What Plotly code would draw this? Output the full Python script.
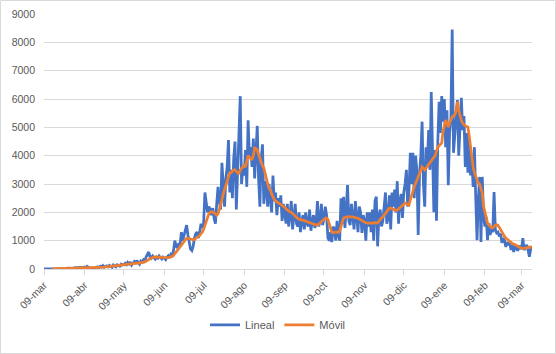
import plotly.graph_objects as go
import pandas as pd

start_date = "2020-03-09"

lineal = [
    # 09-mar .. 08-abr
    0, 0, 0, 0, 1, 2, 3, 5, 8, 10, 6, 12, 15, 10, 20, 18, 25, 14, 30, 22, 35, 28, 20, 40, 45, 30, 50, 38, 60, 42, 55,
    # 09-abr .. 08-may
    70, 40, 90, 55, 30, 20, 10, 15, 40, 60, 80, 50, 100, 70, 120, 60, 90, 110, 75, 130, 95, 60, 140, 110, 80, 150, 120, 100, 170, 140,
    # 09-may .. 08-jun
    160, 200, 120, 230, 180, 250, 140, 210, 260, 190, 300, 220, 170, 280, 240, 320, 260, 420, 500, 600, 430, 380, 460, 400, 350, 420, 380, 460, 400, 350, 420,
    # 09-jun .. 08-jul
    380, 330, 420, 470, 400, 520, 480, 650, 1000, 800, 750, 900, 850, 1300, 1000, 1200, 1400, 1550, 1200, 900, 700, 650, 800, 1100, 1250, 1300, 1100, 1300, 1600, 1450,
    # 09-jul .. 08-ago
    1600, 2700, 2300, 2000, 2200, 2100, 1900, 2150, 1800, 1600, 2300, 2900, 2400, 2100, 3750, 3000, 2200, 3200, 3600, 4550, 2700, 3500, 2500, 3900, 4500, 2100, 3400, 4200, 6100, 3000, 3600,
    # 09-ago .. 08-sep
    3300, 4200, 2900, 5250, 4000, 4300, 3600, 4600, 3200, 4400, 5050, 3200, 2200, 3900, 4400, 2300, 3100, 2800, 2200, 3000, 2600, 2000, 3300, 2400, 2700, 1900, 2500, 2200, 2600, 1700, 2300,
    # 09-sep .. 08-oct
    2000, 1600, 2300, 1500, 1900, 2400, 1400, 1800, 2300, 1600, 1500, 2000, 1300, 1700, 1900, 1400, 2000, 1600, 1500, 2100, 1350, 1700, 1900, 1450, 1600, 2400, 1500, 1700, 2300, 1550,
    # 09-oct .. 08-nov
    1800, 2200, 1900, 1100, 1000, 1300, 950, 1500, 1400, 1000, 1700, 1200, 1000, 2500, 1600, 2550, 1450, 2100, 2960, 1700, 1550, 2300, 1900, 1400, 2400, 1700, 1300, 2200, 2000, 1270, 1900,
    # 09-nov .. 08-dic
    1700, 1000, 2000, 1500, 2000, 1300, 2100, 1000, 2400, 2550, 800, 1900, 2100, 1500, 1700, 2200, 2700, 1600, 1800, 2600, 1400, 2700, 2200, 2800, 2000, 3100, 1600, 2400, 2650, 1800,
    # 09-dic .. 08-ene
    2700, 3000, 3500, 2200, 2800, 4100, 3000, 4100, 2500, 4000, 3500, 1200, 3300, 4000, 5200, 3000, 2200, 4300, 3700, 4900, 3500, 6250, 3500, 2000, 4200, 1700, 4500, 5900, 4800, 6100, 5200,
    # 09-ene .. 08-feb
    6000, 4300, 5600, 2960, 4800, 5300, 8450, 4100, 4700, 5260, 5960, 4000, 5000, 6040, 4900, 5400, 3600, 4800, 3400, 4600, 3300, 3900, 2900, 4300, 2500, 1020, 2500, 3250, 950, 3250, 1840,
    # 09-feb .. 17-mar
    1500, 1840, 1020, 1620, 1200, 1400, 1300, 2720, 1380, 1270, 1300, 1150, 1250, 920, 1090, 1000, 780, 950, 850, 920, 670, 850, 600, 800, 700, 650, 740, 820, 700, 1090, 670, 780, 850, 670, 430, 700, 800,
]

movil = [
    None, None, None, None, None, None,
    3, 4, 5, 6, 8, 10, 11, 12, 14, 15, 17, 18, 20, 22, 24, 25, 27, 28, 30, 32, 33, 35, 37, 40, 42,
    45, 47, 50, 52, 50, 45, 40, 38, 40, 42, 45, 50, 55, 60, 65, 70, 75, 80, 85, 90, 95, 100, 105, 108, 110, 115, 118, 120, 125, 130,
    135, 140, 145, 150, 160, 170, 175, 180, 190, 195, 200, 210, 215, 220, 225, 235, 250, 270, 300, 330, 360, 390, 410, 420, 425, 430, 420, 415, 410, 405, 400,
    410, 400, 395, 400, 410, 420, 445, 480, 550, 610, 660, 720, 780, 850, 900, 950, 1030, 1080, 1090, 1080, 1060, 1040, 1030, 1050, 1080, 1100, 1120, 1180, 1250, 1300,
    1400, 1560, 1700, 1850, 1950, 2000, 2020, 2010, 1990, 1950, 1900, 1950, 2100, 2250, 2450, 2650, 2800, 2900, 3050, 3250, 3400, 3400, 3450, 3500, 3500, 3450, 3400, 3350, 3500, 3550, 3600,
    3650, 3600, 3800, 4000, 3950, 3900, 3850, 4000, 4270, 4250, 4200, 4050, 3900, 3740, 3650, 3570, 3350, 3140, 3000, 2850, 2790, 2650, 2540, 2450, 2400, 2370, 2330, 2300, 2270, 2260, 2200,
    2180, 2120, 2080, 2050, 2020, 2000, 1950, 1900, 1850, 1800, 1780, 1760, 1750, 1740, 1730, 1710, 1690, 1670, 1650, 1630, 1620, 1600, 1590, 1570, 1560, 1550, 1580, 1620, 1680, 1730,
    1760, 1800, 1800, 1750, 1600, 1450, 1300, 1280, 1300, 1310, 1300, 1290, 1350, 1500, 1700, 1800, 1820, 1840, 1850, 1840, 1830, 1840, 1840, 1820, 1800, 1800, 1790, 1760, 1730, 1700, 1660,
    1650, 1630, 1620, 1620, 1630, 1620, 1610, 1620, 1640, 1620, 1630, 1700, 1760, 1800, 1840, 1900, 1960, 2030, 2100, 2150, 2150, 2120, 2100, 2080, 2080, 2080, 2120, 2160, 2190, 2250,
    2300, 2330, 2300, 2280, 2260, 2450, 2620, 2790, 2900, 3020, 3130, 3250, 3380, 3500, 3600, 3550, 3500, 3560, 3620, 3670, 3740, 3780, 3850, 3900, 4000, 4150, 4310, 4350, 4400, 4450, 4850,
    5100, 5260, 5150, 5010, 5150, 5280, 5370, 5400, 5440, 5600, 5900, 5600, 5370, 5250, 5150, 5080, 5050, 5030, 5010, 4700, 4310, 3950, 3600, 3400, 3250, 3100, 3030, 3000, 2790, 2680, 2200,
    1980, 1800, 1620, 1550, 1500, 1470, 1450, 1500, 1550, 1560, 1540, 1470, 1380, 1300, 1220, 1150, 1090, 1050, 1000, 960, 920, 900, 880, 850, 820, 790, 760, 740, 730, 720, 730, 740, 760, 780, 770, 780, 760,
]

tick_dates = ["2020-03-09", "2020-04-09", "2020-05-09", "2020-06-09", "2020-07-09", "2020-08-09",
              "2020-09-09", "2020-10-09", "2020-11-09", "2020-12-09", "2021-01-09", "2021-02-09", "2021-03-09"]
tick_labels = ["09-mar", "09-abr", "09-may", "09-jun", "09-jul", "09-ago",
               "09-sep", "09-oct", "09-nov", "09-dic", "09-ene", "09-feb", "09-mar"]

dates = pd.date_range(start_date, periods=len(lineal), freq="D")

FONT = "Liberation Sans"
GRAY_TXT = "#595959"
GRID = "#D9D9D9"

fig = go.Figure()
fig.add_trace(go.Scatter(x=dates, y=lineal, mode="lines", name="Lineal",
                         line=dict(color="#4472C4", width=2.75)))
fig.add_trace(go.Scatter(x=dates, y=movil, mode="lines", name="Móvil",
                         line=dict(color="#ED7D31", width=2.75)))

L, R, T, B = 44, 24, 14, 85
W, H = 556, 354
pw, ph = W - L - R, H - T - B

fig.update_layout(
    width=W, height=H,
    margin=dict(l=L, r=R, t=T, b=B, pad=0, autoexpand=False),
    paper_bgcolor="white", plot_bgcolor="white",
    font=dict(family=FONT, size=11, color=GRAY_TXT),
    showlegend=True,
    legend=dict(orientation="h", xref="container", yref="container",
                x=0.5, xanchor="center", y=0.082, yanchor="middle",
                font=dict(family=FONT, size=11, color=GRAY_TXT),
                bgcolor="rgba(0,0,0,0)", traceorder="normal"),
    xaxis=dict(type="date", range=[dates[0], dates[-1]], automargin=False,
               tickmode="array", tickvals=tick_dates, ticktext=tick_labels,
               tickangle=-45, tickfont=dict(family=FONT, size=10.5, color=GRAY_TXT),
               showgrid=False, zeroline=False,
               showline=True, linecolor=GRID, linewidth=1,
               ticks="outside", ticklen=5, tickcolor=GRID, tickwidth=1),
    yaxis=dict(range=[0, 9000], dtick=1000, tick0=0, automargin=False,
               tickfont=dict(family=FONT, size=10.5, color=GRAY_TXT),
               showgrid=True, gridcolor=GRID, gridwidth=1,
               zeroline=False, showline=False, ticks="", ticklabelstandoff=8),
    shapes=[dict(type="rect", xref="paper", yref="paper",
                 x0=(0.5 - L) / pw, x1=(W - 0.5 - L) / pw,
                 y0=(T + ph - (H - 0.5)) / ph, y1=(T + ph - 0.5) / ph,
                 line=dict(color=GRID, width=1), fillcolor="rgba(0,0,0,0)", layer="below")],
)

fig.write_html("out.html")
